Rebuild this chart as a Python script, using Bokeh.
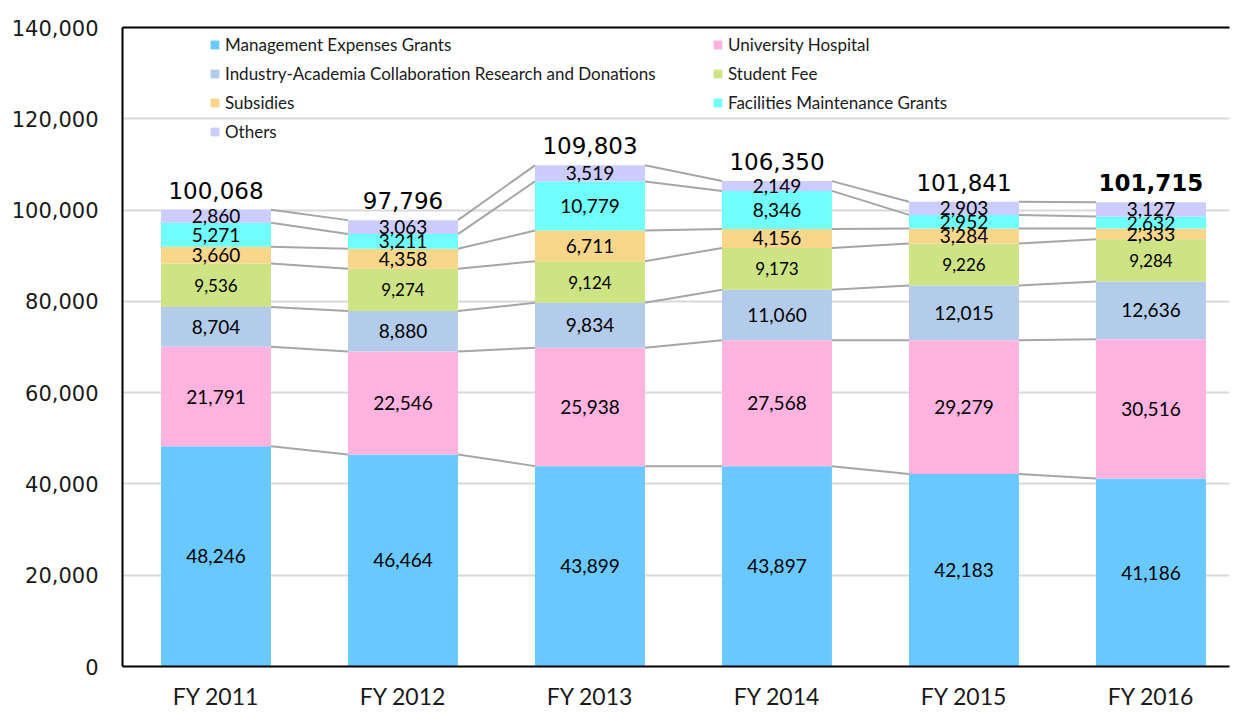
from bokeh.plotting import figure
from bokeh.models import (ColumnDataSource, Range1d, FixedTicker, LinearAxis, Legend,
                          LegendItem, NumeralTickFormatter)
from bokeh.core.properties import value
from bokeh.embed import file_html
from bokeh.resources import INLINE

years = ["FY 2011", "FY 2012", "FY 2013", "FY 2014", "FY 2015", "FY 2016"]
series_names = ["Management Expenses Grants", "University Hospital",
                "Industry-Academia Collaboration Research and Donations", "Student Fee",
                "Subsidies", "Facilities Maintenance Grants", "Others"]
management = [48246, 46464, 43899, 43897, 42183, 41186]
hospital = [21791, 22546, 25938, 27568, 29279, 30516]
industry = [8704, 8880, 9834, 11060, 12015, 12636]
student_fee = [9536, 9274, 9124, 9173, 9226, 9284]
subsidies = [3660, 4358, 6711, 4156, 3284, 2333]
facilities = [5271, 3211, 10779, 8346, 2952, 2632]
others = [2860, 3063, 3519, 2149, 2903, 3127]
totals = [100068, 97796, 109803, 106350, 101841, 101715]
y_ticks = [0, 20000, 40000, 60000, 80000, 100000, 120000, 140000]

series = [management, hospital, industry, student_fee, subsidies, facilities, others]
colors = ["#69C9FF", "#FFB3DE", "#B4CCEC", "#CDE384", "#F8D68A", "#70FFFA", "#CCCCFF"]
label_sizes = ["19px", "19px", "19px", "17px", "19px", "19px", "19px"]

BAR_W = 0.588
xs = [i + 0.5 for i in range(len(years))]

p = figure(width=1231, height=712, output_backend="svg", toolbar_location=None,
           x_range=Range1d(0, 5.92), y_range=Range1d(0, 140000),
           min_border_left=122, min_border_right=2, min_border_top=27, min_border_bottom=40)
p.outline_line_color = None
p.background_fill_color = "white"
p.border_fill_color = "white"

# axes
p.yaxis.ticker = FixedTicker(ticks=y_ticks)
p.yaxis.formatter = NumeralTickFormatter(format="0,0")
p.yaxis.major_tick_line_color = None
p.yaxis.minor_tick_line_color = None
p.yaxis.major_tick_out = 0
p.yaxis.major_tick_in = 0
p.yaxis.axis_line_color = "black"
p.yaxis.axis_line_width = 2
p.yaxis.major_label_text_font = "DejaVu Sans"
p.yaxis.major_label_text_font_size = "21px"
p.yaxis.major_label_text_color = "#1a1a1a"
p.yaxis.major_label_standoff = 24

p.xaxis.ticker = FixedTicker(ticks=xs)
p.xaxis.major_label_overrides = {x: y for x, y in zip(xs, years)}
p.xaxis.major_tick_line_color = None
p.xaxis.minor_tick_line_color = None
p.xaxis.major_tick_out = 0
p.xaxis.major_tick_in = 0
p.xaxis.axis_line_color = "black"
p.xaxis.axis_line_width = 2
p.xaxis.major_label_text_font = "Lato"
p.xaxis.major_label_text_font_size = "23px"
p.xaxis.major_label_text_color = "#1a1a1a"
p.xaxis.major_label_standoff = 15

top_axis = LinearAxis(major_label_text_font_size="0px", major_tick_line_color=None,
                      minor_tick_line_color=None, axis_line_color="black", axis_line_width=2,
                      major_tick_out=0, major_tick_in=0, major_label_standoff=0)
top_axis.ticker = FixedTicker(ticks=[])
p.add_layout(top_axis, "above")

p.xgrid.grid_line_color = None
p.ygrid.ticker = FixedTicker(ticks=y_ticks[1:])
p.ygrid.grid_line_color = "#D9D9D9"
p.ygrid.grid_line_width = 2

# cumulative levels
cum = []
run = [0] * len(years)
for s in series:
    bottoms = run[:]
    run = [a + b for a, b in zip(run, s)]
    cum.append((bottoms, run[:]))

# connector lines
x0, y0, x1, y1 = [], [], [], []
for bottoms, tops in cum:
    for i in range(len(years) - 1):
        x0.append(xs[i] + BAR_W / 2)
        y0.append(tops[i])
        x1.append(xs[i + 1] - BAR_W / 2)
        y1.append(tops[i + 1])
p.segment(x0=x0, y0=y0, x1=x1, y1=y1, line_color="#A6A6A6", line_width=2)

# bars
renderers = []
for (bottoms, tops), c, s, fs in zip(cum, colors, series, label_sizes):
    src = ColumnDataSource(dict(x=xs, bottom=bottoms, top=tops,
                                mid=[(a + b) / 2 for a, b in zip(bottoms, tops)],
                                label=["{:,}".format(v) for v in s]))
    r = p.vbar(x="x", bottom="bottom", top="top", width=BAR_W, fill_color=c, line_color=None, source=src)
    renderers.append(r)
    p.text(x="x", y="mid", text="label", source=src, text_align="center", text_baseline="middle",
           text_font=value("Lato"), text_font_size=fs, text_color="black")

# totals
tsrc = ColumnDataSource(dict(x=xs, y=totals, label=["{:,}".format(v) for v in totals],
                             style=["normal"] * 5 + ["bold"]))
p.text(x="x", y="y", text="label", source=tsrc, text_align="center", text_baseline="bottom",
       y_offset=-11, text_font=value("DejaVu Sans"), text_font_size="23px", text_color="black",
       text_font_style="style")

# legends (two columns)
def mk_legend(idx, loc):
    lg = Legend(items=[LegendItem(label=series_names[i], renderers=[renderers[i]]) for i in idx],
                location=loc, orientation="vertical", padding=0, margin=0, spacing=8,
                glyph_width=11, glyph_height=11, label_height=20, label_standoff=5,
                label_text_font="Lato", label_text_font_size="17px", label_text_color="#1a1a1a",
                border_line_color=None, background_fill_alpha=0)
    return lg

p.add_layout(mk_legend([0, 2, 4, 6], (87, 524)), "center")
p.add_layout(mk_legend([1, 3, 5], (590, 553)), "center")

open("out.html", "w").write(file_html(p, INLINE))
